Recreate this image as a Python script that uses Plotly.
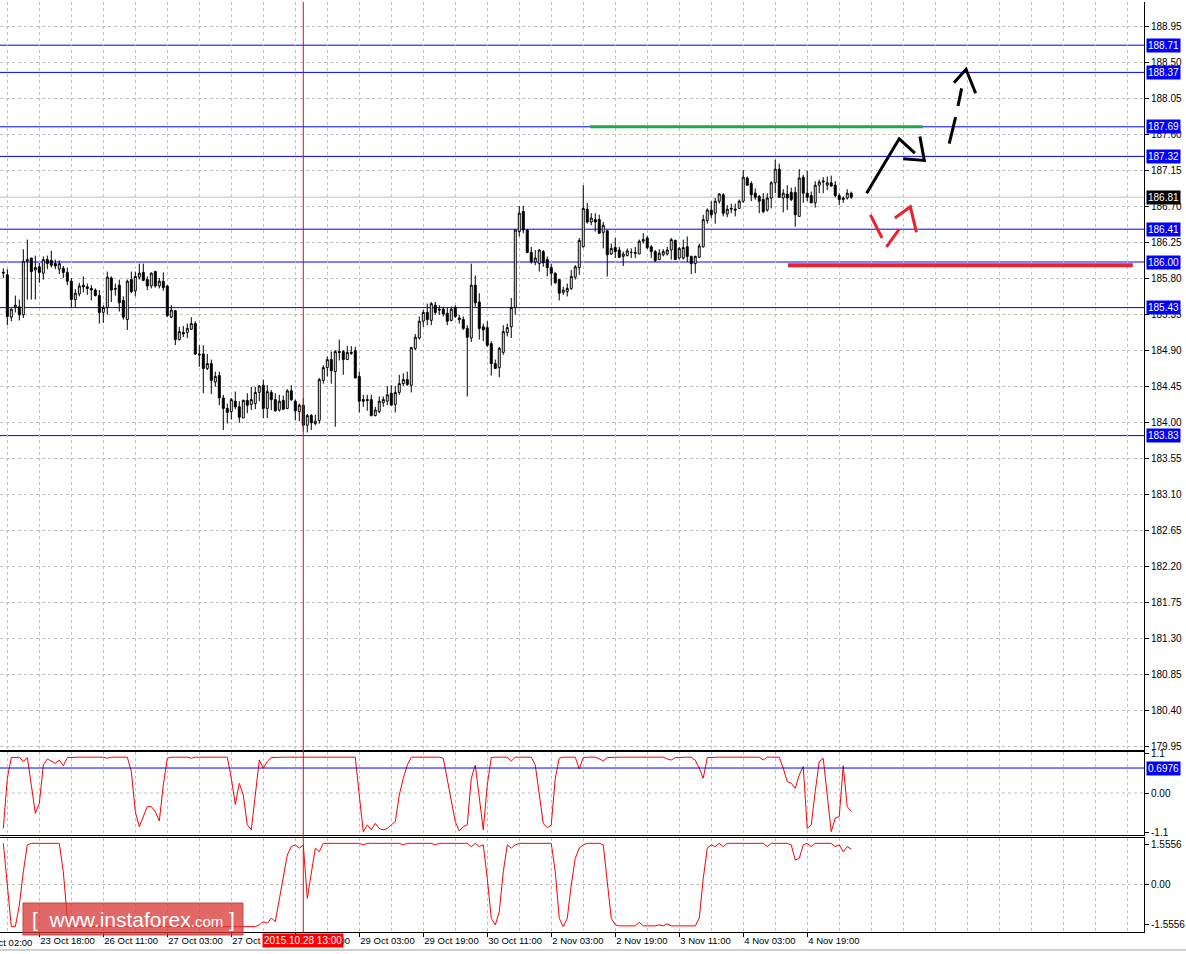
import plotly.graph_objects as go

# ---------------- data (H1 candles) ----------------
OPEN = [
    185.86, 185.84, 185.31, 185.43, 185.44, 185.34, 186.01, 186.05, 185.90, 185.94,
    185.86, 186.03, 186.02, 185.98, 185.91, 185.92, 185.87, 185.76, 185.53, 185.60,
    185.71, 185.69, 185.67, 185.65, 185.58, 185.37, 185.43, 185.80, 185.67, 185.71,
    185.52, 185.28, 185.78, 185.64, 185.81, 185.87, 185.78, 185.70, 185.88, 185.70,
    185.76, 185.70, 185.31, 185.39, 185.03, 185.12, 185.12, 185.16, 185.23, 184.85,
    184.85, 184.67, 184.73, 184.50, 184.58, 184.30, 184.17, 184.13, 184.26, 184.19,
    184.05, 184.27, 184.22, 184.23, 184.37, 184.46, 184.17, 184.37, 184.28, 184.15,
    184.27, 184.17, 184.39, 184.26, 184.13, 184.21, 183.96, 184.08, 183.98, 184.02,
    184.52, 184.68, 184.78, 184.63, 184.88, 184.88, 184.78, 184.87, 184.89, 184.57,
    184.28, 184.28, 184.28, 184.08, 184.13, 184.24, 184.26, 184.36, 184.22, 184.37,
    184.48, 184.53, 184.46, 184.92, 185.05, 185.26, 185.37, 185.27, 185.46, 185.41,
    185.41, 185.36, 185.27, 185.43, 185.30, 185.28, 185.17, 185.05, 185.71, 185.50,
    185.19, 185.18, 184.98, 184.73, 184.68, 184.87, 185.12, 185.19, 185.43, 186.38,
    186.63, 186.40, 186.12, 186.00, 185.98, 186.13, 186.03, 185.93, 185.86, 185.78,
    185.62, 185.63, 185.67, 185.81, 185.93, 186.19, 186.66, 186.50, 186.53, 186.53,
    186.37, 186.39, 186.10, 186.18, 186.15, 186.07, 186.08, 186.12, 186.12, 186.10,
    186.26, 186.30, 186.19, 186.13, 186.03, 186.09, 186.10, 186.15, 186.27, 186.05,
    186.05, 186.19, 186.07, 185.98, 186.06, 186.19, 186.52, 186.65, 186.61, 186.76,
    186.84, 186.60, 186.66, 186.66, 186.67, 186.76, 187.05, 186.98, 186.86, 186.82,
    186.78, 186.65, 186.80, 186.99, 187.16, 186.80, 186.85, 186.87, 186.87, 186.57,
    187.06, 186.86, 186.83, 186.74, 186.96, 187.00, 186.96, 186.99, 186.96, 186.83,
    186.78, 186.80, 186.86,
]
HIGH = [
    185.92, 185.91, 185.42, 185.58, 185.53, 186.16, 186.28, 186.05, 186.08, 185.99,
    186.07, 186.08, 186.14, 186.03, 186.02, 185.95, 185.93, 185.80, 185.66, 185.74,
    185.82, 185.73, 185.71, 185.67, 185.65, 185.46, 185.88, 185.82, 185.73, 185.78,
    185.57, 185.78, 185.88, 185.88, 185.98, 185.98, 185.82, 185.87, 185.89, 185.80,
    185.87, 185.71, 185.46, 185.40, 185.19, 185.20, 185.23, 185.31, 185.26, 184.96,
    184.96, 184.85, 184.78, 184.63, 184.63, 184.34, 184.23, 184.30, 184.38, 184.26,
    184.28, 184.36, 184.44, 184.44, 184.46, 184.53, 184.46, 184.40, 184.36, 184.34,
    184.33, 184.41, 184.46, 184.28, 184.23, 184.30, 184.10, 184.10, 184.09, 184.55,
    184.71, 184.82, 184.88, 184.90, 185.03, 184.90, 184.95, 184.95, 184.94, 184.63,
    184.34, 184.34, 184.34, 184.19, 184.32, 184.32, 184.45, 184.46, 184.45, 184.59,
    184.61, 184.63, 184.94, 185.10, 185.32, 185.40, 185.48, 185.50, 185.50, 185.46,
    185.44, 185.43, 185.44, 185.46, 185.34, 185.32, 185.21, 185.98, 185.83, 185.61,
    185.23, 185.26, 185.01, 184.78, 184.94, 185.21, 185.23, 185.55, 186.41, 186.70,
    186.70, 186.41, 186.19, 186.15, 186.16, 186.15, 186.07, 185.98, 185.87, 185.78,
    185.69, 185.73, 185.90, 185.96, 186.30, 186.96, 186.74, 186.61, 186.61, 186.59,
    186.50, 186.40, 186.23, 186.30, 186.19, 186.13, 186.17, 186.17, 186.19, 186.28,
    186.36, 186.33, 186.21, 186.15, 186.16, 186.16, 186.19, 186.30, 186.28, 186.19,
    186.28, 186.32, 186.08, 186.08, 186.23, 186.59, 186.67, 186.76, 186.80, 186.86,
    186.86, 186.71, 186.73, 186.73, 186.78, 187.15, 187.07, 187.01, 186.92, 186.84,
    186.86, 186.86, 187.01, 187.28, 187.23, 186.91, 186.96, 186.93, 186.94, 187.16,
    187.09, 187.14, 186.88, 187.01, 187.03, 187.06, 187.07, 187.08, 187.01, 186.86,
    186.82, 186.91, 186.88,
]
LOW = [
    185.80, 185.21, 185.26, 185.37, 185.27, 185.30, 185.53, 185.53, 185.53, 185.74,
    185.78, 185.91, 185.93, 185.91, 185.85, 185.80, 185.71, 185.43, 185.43, 185.57,
    185.62, 185.59, 185.52, 185.57, 185.23, 185.24, 185.34, 185.50, 185.58, 185.38,
    185.28, 185.15, 185.61, 185.57, 185.78, 185.76, 185.65, 185.67, 185.68, 185.67,
    185.64, 185.31, 185.30, 184.96, 185.02, 185.06, 185.05, 185.15, 184.84, 184.69,
    184.36, 184.65, 184.35, 184.44, 184.21, 183.90, 183.98, 184.03, 184.16, 183.99,
    184.05, 184.11, 184.15, 184.16, 184.26, 184.05, 184.05, 184.15, 184.13, 184.13,
    184.15, 184.16, 184.26, 184.02, 184.01, 183.88, 183.87, 183.90, 183.96, 183.98,
    184.48, 184.57, 184.48, 183.94, 184.77, 184.59, 184.78, 184.84, 184.55, 184.12,
    184.19, 184.14, 184.07, 184.07, 184.11, 184.19, 184.21, 184.21, 184.12, 184.34,
    184.45, 184.45, 184.37, 184.90, 185.03, 185.19, 185.21, 185.21, 185.34, 185.34,
    185.32, 185.21, 185.26, 185.30, 185.23, 185.15, 184.32, 185.00, 185.44, 185.03,
    185.01, 184.94, 184.58, 184.67, 184.56, 184.84, 185.07, 185.05, 185.34, 186.32,
    186.36, 186.11, 185.98, 185.96, 185.88, 185.94, 185.82, 185.71, 185.73, 185.52,
    185.59, 185.57, 185.65, 185.78, 185.84, 186.18, 186.48, 186.46, 186.38, 186.35,
    186.17, 185.82, 186.09, 186.05, 186.05, 185.95, 186.07, 186.05, 186.05, 186.10,
    186.23, 186.16, 186.05, 186.00, 186.03, 186.07, 186.08, 186.03, 186.03, 186.03,
    186.03, 186.00, 185.85, 185.86, 186.05, 186.18, 186.48, 186.55, 186.48, 186.73,
    186.57, 186.56, 186.61, 186.57, 186.67, 186.74, 186.95, 186.76, 186.78, 186.61,
    186.61, 186.63, 186.67, 186.86, 186.80, 186.62, 186.65, 186.76, 186.44, 186.57,
    186.74, 186.76, 186.74, 186.68, 186.86, 186.86, 186.90, 186.94, 186.81, 186.71,
    186.74, 186.78, 186.79,
]
CLOSE = [
    185.87, 185.32, 185.41, 185.46, 185.34, 186.01, 186.03, 185.88, 185.93, 185.87,
    186.03, 185.98, 185.96, 185.95, 185.98, 185.87, 185.76, 185.53, 185.61, 185.70,
    185.69, 185.67, 185.65, 185.58, 185.37, 185.43, 185.81, 185.65, 185.66, 185.49,
    185.31, 185.76, 185.63, 185.82, 185.86, 185.77, 185.70, 185.86, 185.70, 185.76,
    185.68, 185.33, 185.40, 185.03, 185.13, 185.10, 185.17, 185.23, 184.85, 184.84,
    184.67, 184.73, 184.52, 184.57, 184.30, 184.17, 184.12, 184.28, 184.19, 184.06,
    184.27, 184.21, 184.28, 184.37, 184.45, 184.17, 184.38, 184.28, 184.14, 184.26,
    184.16, 184.39, 184.28, 184.14, 184.21, 183.96, 184.08, 183.99, 184.01, 184.53,
    184.68, 184.78, 184.64, 184.88, 184.87, 184.78, 184.87, 184.86, 184.55, 184.26,
    184.26, 184.27, 184.08, 184.15, 184.26, 184.28, 184.34, 184.21, 184.37, 184.48,
    184.53, 184.47, 184.93, 185.06, 185.26, 185.37, 185.28, 185.48, 185.37, 185.40,
    185.35, 185.26, 185.41, 185.32, 185.28, 185.17, 185.06, 185.71, 185.49, 185.17,
    185.15, 184.96, 184.73, 184.67, 184.92, 185.13, 185.18, 185.43, 186.40, 186.61,
    186.40, 186.12, 186.00, 186.05, 186.15, 185.99, 185.93, 185.86, 185.74, 185.61,
    185.65, 185.67, 185.82, 185.94, 186.27, 186.67, 186.50, 186.55, 186.50, 186.36,
    186.46, 186.09, 186.17, 186.13, 186.06, 186.10, 186.14, 186.12, 186.11, 186.26,
    186.28, 186.18, 186.13, 186.02, 186.11, 186.13, 186.15, 186.28, 186.03, 186.17,
    186.18, 186.07, 185.98, 186.07, 186.20, 186.53, 186.65, 186.59, 186.76, 186.85,
    186.61, 186.66, 186.67, 186.65, 186.76, 187.06, 186.96, 186.84, 186.81, 186.76,
    186.63, 186.80, 186.99, 187.16, 186.81, 186.86, 186.80, 186.78, 186.59, 187.05,
    186.86, 186.81, 186.74, 186.96, 187.00, 187.01, 186.99, 186.95, 186.83, 186.78,
    186.80, 186.86, 186.81,
]
# indicator 1 (upper sub-window)
IND1 = [
    -0.99, 0.41, 0.99, 0.99, 1.00, 0.88, 0.99, 0.22, -0.57, -0.29,
    0.78, 0.95, 0.88, 0.83, 0.92, 0.76, 0.99, 1.00, 1.00, 1.00,
    1.00, 1.00, 1.00, 1.00, 1.00, 1.00, 0.97, 1.00, 1.00, 1.00,
    1.00, 1.00, 0.60, -0.52, -0.94, -0.66, -0.38, -0.38, -0.52, -0.78,
    0.22, 0.97, 1.00, 1.00, 1.00, 1.00, 1.00, 0.97, 1.00, 1.00,
    1.00, 1.00, 0.98, 1.00, 1.00, 1.00, 1.00, 0.41, -0.32, 0.27,
    -0.06, -0.89, -1.03, -0.06, 0.92, 0.69, 0.88, 0.99, 1.00, 1.00,
    1.00, 1.00, 1.00, 1.00, 1.00, 1.00, 1.00, 1.00, 1.00, 1.00,
    1.00, 1.00, 1.00, 1.00, 1.00, 1.00, 1.00, 1.00, 1.00, -0.06,
    -1.08, -0.89, -1.03, -0.85, -0.99, -1.03, -0.99, -0.89, -0.80, -0.06,
    0.41, 0.78, 1.00, 1.00, 1.00, 1.00, 1.00, 1.00, 1.00, 1.00,
    0.97, 0.41, -0.24, -0.80, -1.06, -0.94, -0.89, 0.41, 0.78, -0.06,
    -1.03, 0.22, 0.99, 1.00, 1.00, 1.00, 1.00, 0.89, 1.00, 1.00,
    1.00, 1.00, 1.00, 0.78, -0.06, -0.85, -0.97, -0.89, 0.41, 0.97,
    1.00, 1.00, 1.00, 1.00, 0.67, 0.99, 1.00, 1.00, 1.00, 0.95,
    0.90, 0.99, 1.00, 1.00, 1.00, 1.00, 1.00, 1.00, 1.00, 1.00,
    1.00, 1.00, 1.00, 1.00, 1.00, 1.00, 0.95, 0.92, 0.99, 1.00,
    1.00, 1.00, 1.00, 0.92, 0.69, 0.41, 0.99, 1.00, 1.00, 1.00,
    1.00, 1.00, 1.00, 1.00, 1.00, 1.00, 1.00, 1.00, 1.00, 1.00,
    0.92, 1.00, 1.00, 1.00, 1.00, 0.69, 0.32, 0.27, 0.13, 0.50,
    0.74, -0.99, -0.89, 0.04, 0.88, 0.97, -0.06, -1.08, -0.70, -0.66,
    0.76, -0.38, -0.52,
]
# indicator 2 (lower sub-window)
IND2 = [
    1.62, -0.02, -1.66, -1.66, -0.81, 0.50, 1.56, 1.62, 1.62, 1.62,
    1.62, 1.62, 1.62, 1.62, 1.62, 0.50, -1.33, -1.66, -1.66, -1.66,
    -1.66, -1.66, -1.66, -1.66, -1.66, -1.66, -1.66, -1.66, -1.66, -1.66,
    -1.66, -1.66, -1.66, -1.66, -1.66, -1.66, -1.66, -1.66, -1.66, -1.66,
    -1.66, -1.66, -1.66, -1.66, -1.66, -1.66, -1.66, -1.66, -1.66, -1.66,
    -1.66, -1.66, -1.66, -1.66, -1.66, -1.66, -1.66, -1.66, -1.66, -1.66,
    -1.66, -1.66, -1.66, -1.66, -1.59, -1.46, -1.53, -1.33, -1.46, -0.55,
    0.37, 1.16, 1.49, 1.56, 1.43, 1.56, -0.55, 0.50, 1.43, 1.29,
    1.62, 1.62, 1.62, 1.62, 1.62, 1.62, 1.62, 1.62, 1.62, 1.62,
    1.56, 1.62, 1.62, 1.62, 1.62, 1.62, 1.62, 1.62, 1.62, 1.62,
    1.56, 1.62, 1.62, 1.62, 1.62, 1.62, 1.62, 1.62, 1.56, 1.62,
    1.62, 1.62, 1.62, 1.62, 1.62, 1.62, 1.62, 1.49, 1.62, 1.49,
    1.56, 0.24, -1.33, -1.59, -1.07, 0.50, 1.56, 1.43, 1.56, 1.62,
    1.62, 1.62, 1.62, 1.62, 1.62, 1.62, 1.62, 1.62, 0.50, -1.33,
    -1.66, -1.33, -0.02, 1.03, 1.43, 1.56, 1.62, 1.62, 1.62, 1.62,
    1.56, -0.02, -1.33, -1.59, -1.63, -1.63, -1.63, -1.63, -1.63, -1.49,
    -1.63, -1.63, -1.63, -1.63, -1.59, -1.63, -1.55, -1.63, -1.63, -1.63,
    -1.63, -1.63, -1.63, -1.63, -1.33, 0.24, 1.43, 1.56, 1.49, 1.62,
    1.49, 1.62, 1.62, 1.62, 1.62, 1.62, 1.62, 1.62, 1.62, 1.62,
    1.62, 1.49, 1.62, 1.62, 1.62, 1.62, 1.62, 1.56, 0.96, 1.03,
    1.56, 1.62, 1.49, 1.62, 1.62, 1.62, 1.62, 1.62, 1.49, 1.56,
    1.29, 1.49, 1.39,
]
BARS = list(range(len(CLOSE)))

TIME_TICK_BARS = [9, 25, 41, 57, 73, 89, 105, 121, 137, 153, 169, 185, 201]
TIME_TICK_LABELS = ["23 Oct 18:00", "26 Oct 11:00", "27 Oct 03:00", "27 Oct 19:00",
                    "28 Oct 11:00", "29 Oct 03:00", "29 Oct 19:00", "30 Oct 11:00",
                    "2 Nov 03:00", "2 Nov 19:00", "3 Nov 11:00", "4 Nov 03:00",
                    "4 Nov 19:00"]
FIRST_LABEL_BAR = -7
FIRST_LABEL = "23 Oct 02:00"

PRICE_TICKS = [179.95, 180.40, 180.85, 181.30, 181.75, 182.20, 182.65, 183.10, 183.55,
               184.00, 184.45, 184.90, 185.35, 185.80, 186.25, 186.70, 187.15, 187.60,
               188.05, 188.50, 188.95]
LEVELS = [188.71, 188.37, 187.69, 187.32, 186.41, 186.00, 185.43, 183.83]
BID = 186.81
IND1_LEVEL = 0.6976
IND1_TICKS = [-1.1, 0.0, 1.1]
IND1_TICK_TEXT = ["-1.1", "0.00", "1.1"]
IND2_TICKS = [-1.5556, 0.0, 1.5556]
IND2_TICK_TEXT = ["-1.5556", "0.00", "1.5556"]

CURSOR_BAR = 75
CURSOR_LABEL = "2015.10.28 13:00"

# hand drawn marks (bar index, price)
GREEN_X = [146.7, 229.9]
GREEN_Y = [187.69, 187.69]
RED_X = [196.2, 282.4]
RED_Y = [185.96, 185.96]
ARROW1_X = [215.85, 223.99, 227.92, None, 224.99, 230.27, 229.17]
ARROW1_Y = [186.86, 187.54, 187.36, None, 187.29, 187.27, 187.57]
ARROW2_X = [236.5, 238.1, None, 238.7, 239.6, None, 237.7, 240.7, 243.1]
ARROW2_Y = [187.48, 187.81, None, 187.95, 188.17, None, 188.24, 188.41, 188.11]
RED_ARROW_X = [216.8, 219.7, None, 220.8, 224.0, None, 222.9, 226.8, 228.3]
RED_ARROW_Y = [186.59, 186.30, None, 186.19, 186.41, None, 186.55, 186.69, 186.37]

# ---------------- figure ----------------
W, H = 1186, 954
ML, MR, MT, MB = 0, 42, 2, 22
PH = H - MT - MB
PW = W - ML - MR


def pdom(top_px, bot_px):
    return [(H - MB - bot_px) / PH, (H - MB - top_px) / PH]


FONT = "Liberation Sans, Arial, sans-serif"
GRID = "#c0c0c0"
DASH = "3px,3px"
XR = [-0.83, 285.2]
PX_PER_BAR = PW / (XR[1] - XR[0])
XFONT = dict(family=FONT, size=9.5, color="black")

fig = go.Figure()

fig.add_trace(go.Candlestick(
    x=BARS, open=OPEN, high=HIGH, low=LOW, close=CLOSE,
    increasing=dict(line=dict(color="black", width=1), fillcolor="white"),
    decreasing=dict(line=dict(color="black", width=1), fillcolor="black"),
    whiskerwidth=0, xaxis="x", yaxis="y", showlegend=False, hoverinfo="skip"))

fig.add_trace(go.Scatter(x=GREEN_X, y=GREEN_Y, mode="lines", xaxis="x", yaxis="y",
                         line=dict(color="#20a848", width=3), showlegend=False, hoverinfo="skip"))
fig.add_trace(go.Scatter(x=RED_X, y=RED_Y, mode="lines", xaxis="x", yaxis="y",
                         line=dict(color="#ee2028", width=4), showlegend=False, hoverinfo="skip"))
fig.add_trace(go.Scatter(x=ARROW1_X, y=ARROW1_Y, mode="lines", xaxis="x", yaxis="y",
                         line=dict(color="black", width=3), showlegend=False, hoverinfo="skip"))
fig.add_trace(go.Scatter(x=ARROW2_X, y=ARROW2_Y, mode="lines", xaxis="x", yaxis="y",
                         line=dict(color="black", width=3), showlegend=False, hoverinfo="skip"))
fig.add_trace(go.Scatter(x=RED_ARROW_X, y=RED_ARROW_Y, mode="lines", xaxis="x", yaxis="y",
                         line=dict(color="#ee2028", width=3), showlegend=False, hoverinfo="skip"))

fig.add_trace(go.Scatter(x=BARS, y=IND1, mode="lines", xaxis="x2", yaxis="y2",
                         line=dict(color="#ff0000", width=1), showlegend=False, hoverinfo="skip"))
fig.add_trace(go.Scatter(x=BARS, y=IND2, mode="lines", xaxis="x3", yaxis="y3",
                         line=dict(color="#ff0000", width=1), showlegend=False, hoverinfo="skip"))

xcommon = dict(range=XR, showgrid=True, gridcolor=GRID, griddash=DASH, gridwidth=1,
               tickmode="linear", tick0=1, dtick=8, showticklabels=False, ticks="",
               showline=True, linecolor="black", linewidth=1, zeroline=False)
ycommon = dict(side="right", showline=True, linecolor="black", linewidth=1,
               ticks="outside", ticklen=4, tickcolor="black", zeroline=False,
               tickfont=dict(family=FONT, size=10, color="black"))

fig.update_layout(
    width=W, height=H, margin=dict(l=ML, r=MR, t=MT, b=MB, autoexpand=False),
    paper_bgcolor="white", plot_bgcolor="white",
    xaxis=dict(**xcommon, anchor="y", domain=[0, 1], rangeslider=dict(visible=False)),
    xaxis2=dict(**xcommon, anchor="y2", matches="x", mirror=True),
    xaxis3=dict(range=XR, anchor="y3", matches="x", showline=True, mirror=True,
                linecolor="black", linewidth=1, zeroline=False,
                tickmode="array", tickvals=TIME_TICK_BARS, ticktext=TIME_TICK_LABELS,
                ticks="outside", ticklen=4, tickcolor="black", tickangle=0,
                ticklabelposition="outside right", tickfont=XFONT,
                showgrid=True, gridcolor=GRID, griddash=DASH,
                minor=dict(tickmode="linear", tick0=1, dtick=8, showgrid=True,
                           gridcolor=GRID, griddash=DASH, ticks="")),
    yaxis=dict(**ycommon, anchor="x", domain=pdom(2, 750), range=[179.90, 189.25],
               tickmode="array", tickvals=PRICE_TICKS,
               ticktext=["%.2f" % v for v in PRICE_TICKS],
               showgrid=True, gridcolor=GRID, griddash=DASH),
    yaxis2=dict(**ycommon, anchor="x2", domain=pdom(752, 835), range=[-1.173, 1.145],
                tickmode="array", tickvals=IND1_TICKS, ticktext=IND1_TICK_TEXT, showgrid=False),
    yaxis3=dict(**ycommon, anchor="x3", domain=pdom(838, 932), range=[-1.87, 1.83],
                tickmode="array", tickvals=IND2_TICKS, ticktext=IND2_TICK_TEXT, showgrid=False),
)

shapes = []
# zero dashed lines in the sub-windows
for ya, xa in (("y2", "x2"), ("y3", "x3")):
    shapes.append(dict(type="line", xref=xa + " domain", x0=0, x1=1, yref=ya, y0=0, y1=0,
                       line=dict(color=GRID, width=1, dash=DASH), layer="below"))
# bid line
shapes.append(dict(type="line", xref="x domain", x0=0, x1=1, yref="y", y0=BID, y1=BID,
                   line=dict(color="#c0c0c0", width=1), layer="below"))
# level lines
for lv in LEVELS:
    shapes.append(dict(type="line", xref="x domain", x0=0, x1=1, yref="y", y0=lv, y1=lv,
                       line=dict(color="#0000ff", width=1), layer="below"))
shapes.append(dict(type="line", xref="x2 domain", x0=0, x1=1, yref="y2",
                   y0=IND1_LEVEL, y1=IND1_LEVEL, line=dict(color="#0000ff", width=1)))
# cursor line
shapes.append(dict(type="line", xref="x", x0=CURSOR_BAR, x1=CURSOR_BAR, yref="paper",
                   y0=0, y1=1, line=dict(color="#ff0000", width=1)))
# bottom window border
shapes.append(dict(type="line", xref="paper", x0=0, x1=W / PW, yref="paper",
                   y0=(H - MB - 950) / PH, y1=(H - MB - 950) / PH,
                   line=dict(color="#a0a0a0", width=1)))
# watermark box
shapes.append(dict(type="rect", xref="paper", yref="paper",
                   x0=23 / PW, x1=243 / PW,
                   y0=(H - MB - 935) / PH, y1=(H - MB - 903) / PH,
                   fillcolor="rgba(216,52,52,0.75)", line=dict(color="rgba(190,60,60,0.9)", width=1)))
fig.update_layout(shapes=shapes)

ann = []
for lv in LEVELS:
    ann.append(dict(xref="paper", x=1, xanchor="left", xshift=2, yref="y", y=lv,
                    text="%.2f" % lv, showarrow=False, bgcolor="#0000ff", borderpad=1,
                    font=dict(family=FONT, size=10, color="white")))
ann.append(dict(xref="paper", x=1, xanchor="left", xshift=2, yref="y", y=BID,
                text="%.2f" % BID, showarrow=False, bgcolor="black", borderpad=1,
                font=dict(family=FONT, size=10, color="white")))
ann.append(dict(xref="paper", x=1, xanchor="left", xshift=2, yref="y2", y=IND1_LEVEL,
                text="%.4f" % IND1_LEVEL, showarrow=False, bgcolor="#0000ff", borderpad=1,
                font=dict(family=FONT, size=10, color="white")))
# first (partly hidden) time label, left of the visible range
ann.append(dict(xref="paper", x=0, xanchor="left",
                xshift=(FIRST_LABEL_BAR - XR[0]) * PX_PER_BAR + 1,
                yref="paper", y=0, yanchor="top", yshift=-3, text=FIRST_LABEL,
                showarrow=False, font=XFONT))
ann.append(dict(xref="x3", x=CURSOR_BAR, xanchor="center", yref="paper", y=0, yanchor="top",
                yshift=-1, text=CURSOR_LABEL, showarrow=False, bgcolor="#ff0000", borderpad=1,
                font=dict(family=FONT, size=10, color="white")))
ann.append(dict(xref="paper", x=133 / PW, xanchor="center", yref="paper",
                y=(H - MB - 919) / PH, yanchor="middle",
                text="[&nbsp;&nbsp;www.instaforex<span style='font-size:15px'>.com</span>&nbsp;]",
                showarrow=False, font=dict(family=FONT, size=21, color="white")))
fig.update_layout(annotations=ann)

fig.write_html("out.html", config={"displayModeBar": False},
               post_script="document.body.style.margin='0';document.body.style.overflow='hidden';")
